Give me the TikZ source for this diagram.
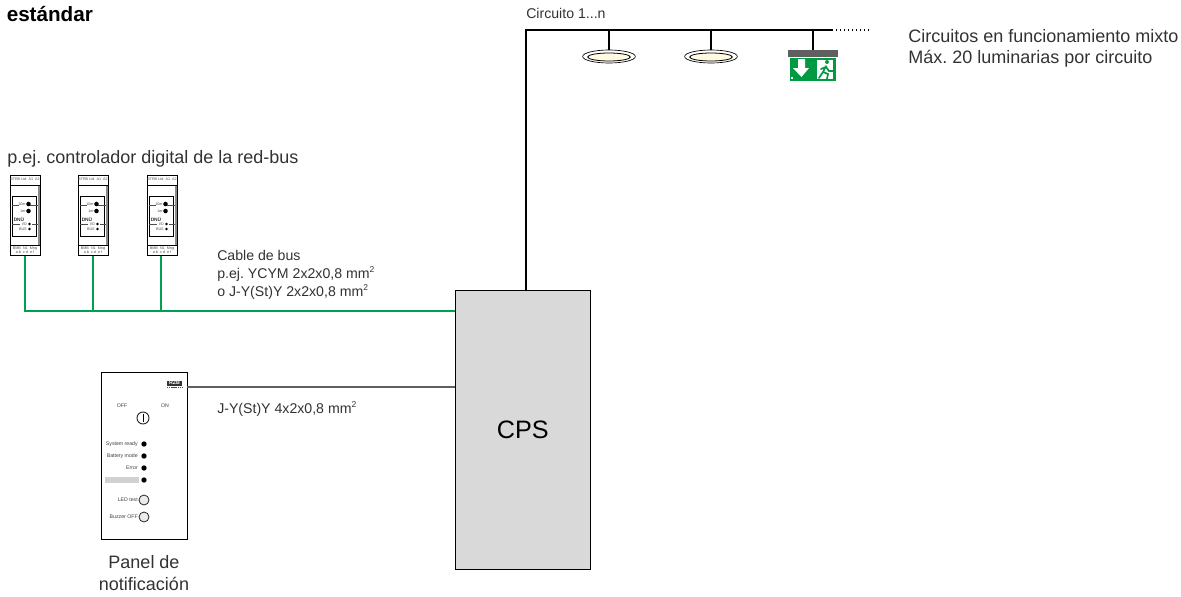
\documentclass[tikz,border=0pt]{standalone}
\usepackage{fontspec}
\setmainfont{Liberation Sans}
\usepackage{tikz}
\usetikzlibrary{positioning,shapes.geometric}
\definecolor{busgreen}{RGB}{0,160,80}
\definecolor{signgreen}{RGB}{0,155,65}
\definecolor{cpsgrey}{RGB}{217,217,217}
\definecolor{wiregrey}{RGB}{95,95,95}
\definecolor{lampcream}{RGB}{255,250,225}
\definecolor{labelgrey}{RGB}{50,50,50}
\newcommand{\sqmm}{\raisebox{0.36em}{\fontsize{6.4}{7}\selectfont 2}}
\begin{document}
\frenchspacing
\begin{tikzpicture}[x=0.75pt, y=-0.75pt, font=\fontsize{13.5}{16}\selectfont,
  txt/.style={inner sep=0pt, anchor=base west, text=labelgrey},
  smalltxt/.style={txt, font=\fontsize{10.6}{13}\selectfont},
  modbox/.style={draw, line width=0.7pt, minimum width=22.5pt, minimum height=60pt, inner sep=0pt, anchor=north west},
  panelbox/.style={draw, line width=0.7pt, fill=white, minimum width=64.5pt, minimum height=125pt, inner sep=0pt, anchor=north west},
  wire/.style={line width=1.3pt},
  bus/.style={line width=1.5pt, draw=busgreen},
  led/.style={circle, fill=black, minimum size=4pt, inner sep=0pt},
  btn/.style={circle, draw=black!85, fill=black!8, line width=0.6pt, minimum size=7.5pt, inner sep=0pt},
  tinytag/.style={inner sep=0pt, font=\fontsize{2.8}{3.2}\selectfont, text=black!70},
  paneltag/.style={inner sep=0pt, anchor=east, font=\fontsize{3.9}{5}\selectfont, text=black!75},
  lampouter/.style={ellipse, draw, fill=white, line width=0.5pt, minimum width=39.5pt, minimum height=9.75pt, inner sep=0pt},
  lampinner/.style={ellipse, draw, fill=lampcream, line width=0.6pt, minimum width=32pt, minimum height=6pt, inner sep=0pt}]
\useasboundingbox (0,0) rectangle (1181,596);

% texts
\node[txt, font=\fontsize{15.5}{18}\selectfont\bfseries, text=black] (title) at (6.5,21.5) {estándar};
\node[txt] (ctrltext) at (7,163) {p.ej. controlador digital de la red-bus};
\node[smalltxt] (circtext) at (526,18) {Circuito 1...n};
\node[txt] (mixtext) at (908,42) {Circuitos en funcionamiento mixto};
\node[txt] (maxtext) at (908,63.5) {Máx. 20 luminarias por circuito};
\node[smalltxt] (bustext) at (217,260) {Cable de bus};
\node[smalltxt] (ycymtext) at (217,278) {p.ej. YCYM 2x2x0,8 mm\sqmm};
\node[smalltxt] (jytext) at (217,296) {o J-Y(St)Y 2x2x0,8 mm\sqmm};
\node[smalltxt] (paneltext) at (217,413) {J-Y(St)Y 4x2x0,8 mm\sqmm};

% CPS
\node[draw, fill=cpsgrey, line width=0.7pt, minimum width=101pt, minimum height=209pt, inner sep=0pt,
  anchor=north west, font=\fontsize{18.9}{22}\selectfont] (cps) at (455,290) {CPS};

% bus modules
\foreach \n/\x in {1/10,2/78,3/147}{
  \begin{scope}[shift={(\x,175)}]
    \node[modbox] (mod\n) at (0,0) {};
    \fill[black!45] (28,10) rectangle (30,70);
    \draw[line width=0.5pt] (0,10) -- (30,10) (0,70) -- (30,70);
    \draw[line width=0.7pt, fill=white] (2,21) rectangle (26,61);
    \draw[line width=0.5pt, black!70] (2,30) -- (9,30) (20,30) -- (28,30) (2,49) -- (10,49) (22,49) -- (28,49);
    \node[tinytag] (top\n) at (15,4.5) {BTRB Ltd \ A1 \ A2};
    \node[tinytag, anchor=east] (a\n) at (16,29) {10er};
    \node[tinytag, anchor=east] (b\n) at (16,36) {1er};
    \node[tinytag, anchor=east] (c\n) at (17,49) {I/O};
    \node[tinytag, anchor=east] (d\n) at (17,54) {BUS};
    \node[led, minimum size=3.4pt] (la\n) at (18.5,29) {};
    \node[led, minimum size=3.4pt] (lb\n) at (18.5,36) {};
    \node[led, minimum size=2.2pt] (lc\n) at (19.5,49) {};
    \node[led, minimum size=2.2pt] (ld\n) at (19.5,54) {};
    \node[inner sep=0pt, anchor=west, text=black!80, font=\fontsize{3.6}{4}\selectfont\bfseries] (dnu\n) at (3.5,44) {DNÜ};
    \node[tinytag, align=center] (bot\n) at (15,75) {BMB \ N1 \ Mng\\{a b \ c d \ e f}};
  \end{scope}
}
\coordinate (busend) at (25,310.5);
\draw[bus] (mod1.south west) ++(15,0) |- (cps.west |- busend);
\draw[bus] (mod2.south west) ++(15,0) -- ++(0,55.5);
\draw[bus] (mod3.south west) ++(14,0) -- ++(0,55.5);

% panel
\node[panelbox] (panel) at (101,372) {};
\node[fill=black!80, text=white, inner sep=0.5pt, minimum width=11pt, font=\fontsize{4}{4.5}\selectfont\bfseries] (logo) at (174.5,383) {RZB};
\draw[line width=0.8pt, dash pattern=on 1pt off 0.6pt, black!70] (logo.south west) ++(0,1.6) -- ++(15,0);
\node[paneltag, anchor=center] (off) at (122,406) {OFF};
\node[paneltag, anchor=center] (on) at (165,406) {ON};
\node[btn, fill=white, minimum size=9pt, line width=0.7pt] (sw) at (143,418) {};
\draw[line width=0.7pt] (sw.north) ++(0,2) -- ++(0,8);
\foreach \t/\y/\n in {System ready/444/a, Battery mode/456/b, Error/468/c}{
  \node[paneltag] (t\n) at (138,\y) {\t};
  \node[led] (l\n) at (144,\y) {};
}
\fill[black!18] (105,477) rectangle (139,483);
\node[led] (ld) at (144,480) {};
\node[paneltag] (tled) at (138,500) {LED test};
\node[btn] (bled) at (144,500) {};
\node[paneltag] (tbuz) at (138,517) {Buzzer OFF};
\node[btn] (bbuz) at (144,517) {};
\node[txt, anchor=base] (paneltitle) at (144,568) {Panel de};
\node[txt, anchor=base] (paneltitleb) at (144,590) {notificación};
\coordinate (panelout) at (187,387);
\draw[line width=1.2pt, draw=wiregrey] (panelout) -- (cps.west |- panelout);

% circuit
\coordinate (feedtop) at (526,30);
\coordinate (feedend) at (832,30);
\coordinate (dotend) at (872,30);
\draw[wire] (cps.north -| feedtop) -- (feedtop) -- (feedend);
\draw[line width=1pt, dotted] (feedend) -- (dotend);
\foreach \n/\x in {1/609,2/711}{
  \node[lampouter] (lampo\n) at (\x,56.5) {};
  \node[lampinner] (lampi\n) at (\x,57) {};
  \draw[wire] (lampo\n.north) -- (\x,30);
}

% exit sign
\node[fill=wiregrey, minimum width=37.5pt, minimum height=5.6pt, inner sep=0pt] (signbar) at (813,53.7) {};
\node[fill=signgreen, minimum width=34.5pt, minimum height=17.5pt, inner sep=0pt, anchor=north] (sign) at (signbar.south) {};
\draw[wire] (signbar.north) -- (813,30);
\fill[white] (798,59) -- (805,59) -- (805,68) -- (809,68) -- (801.5,77) -- (793,68) -- (798,68) -- cycle;
\fill[white] (817,60) rectangle (833,79);
\fill[signgreen] (827,62) circle (2);
\draw[signgreen, line width=1.3pt, line cap=round] (826,66) -- (823,72) -- (819,78) (823,72) -- (828,74) -- (827,79)
  (826,67) -- (829,71) -- (833,71) (826,67) -- (821,69);
\fill[white] (790.5,77) rectangle (793,79);
\end{tikzpicture}
\end{document}
